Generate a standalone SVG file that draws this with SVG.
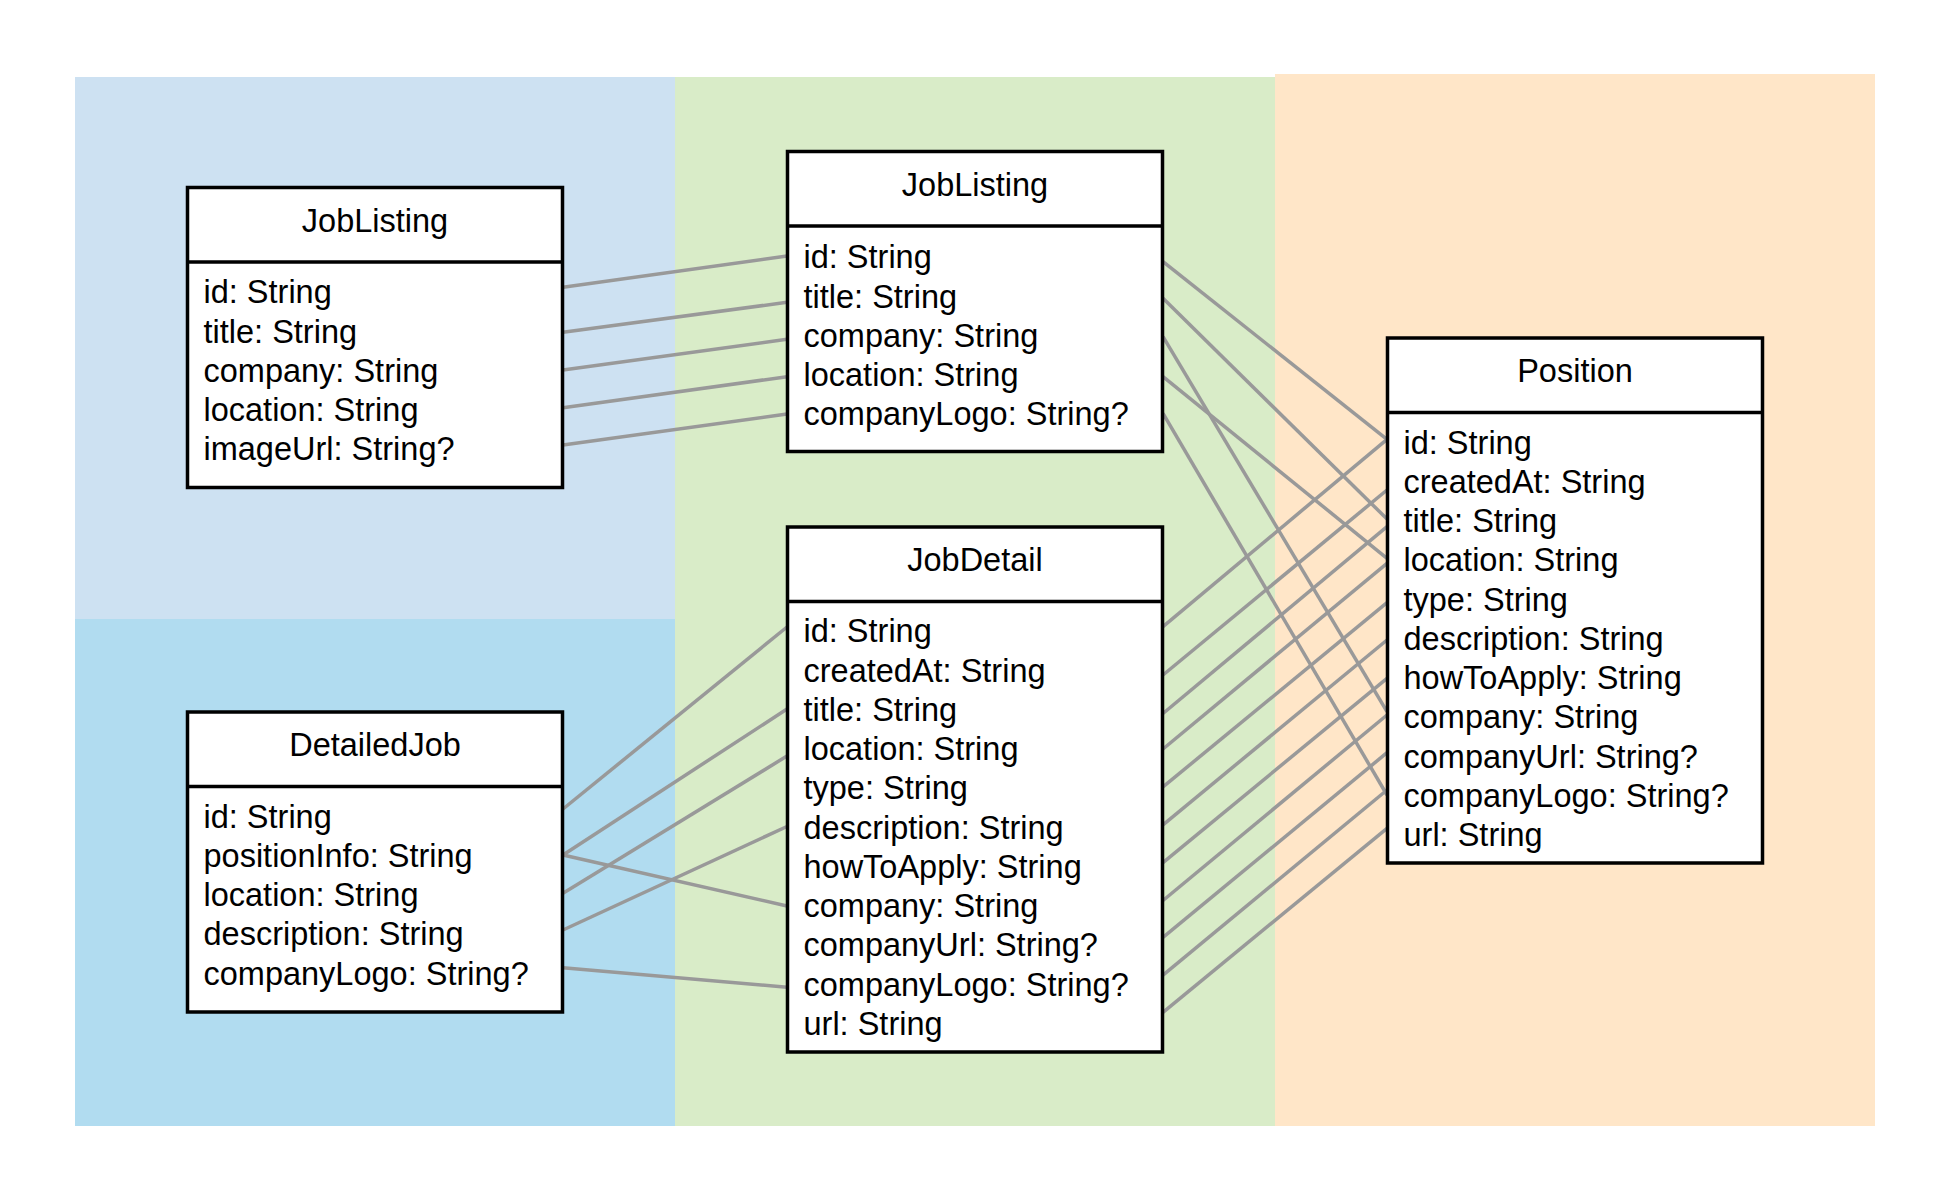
<svg xmlns="http://www.w3.org/2000/svg" width="1950" height="1204" viewBox="0 0 1950 1204">
<style>
.box{fill:#ffffff;stroke:#000000;stroke-width:3.5}
.div{stroke:#000000;stroke-width:3.5}
.t{font-family:"Liberation Sans",Arial,Helvetica,sans-serif;font-size:32.5px;fill:#000000}
.h{text-anchor:middle}
.c line{stroke:#999999;stroke-width:3.5;fill:none}
</style>
<rect width="1950" height="1204" fill="#ffffff"/>
<g id="panels">
<rect x="75" y="77" width="600" height="542" fill="#cde1f2"/>
<rect x="75" y="619" width="600" height="507" fill="#b1dcf0"/>
<rect x="675" y="77" width="600" height="1049" fill="#d9ecc8"/>
<rect x="1275" y="74" width="600" height="1052" fill="#ffe6c8"/>
</g>
<g id="connectors" class="c">
<line x1="563" y1="287.3" x2="787" y2="256"/>
<line x1="563" y1="332.3" x2="787" y2="302.3"/>
<line x1="563" y1="370" x2="787" y2="339.3"/>
<line x1="563" y1="407.7" x2="787" y2="376.7"/>
<line x1="563" y1="445" x2="787" y2="414"/>
<line x1="1163" y1="261.7" x2="1387" y2="439.3"/>
<line x1="1163" y1="298.3" x2="1387" y2="519"/>
<line x1="1163" y1="336.7" x2="1387" y2="711.7"/>
<line x1="1163" y1="376.7" x2="1387" y2="558.3"/>
<line x1="1163" y1="413.3" x2="1387" y2="795"/>
<line x1="1163" y1="626.7" x2="1387" y2="439.3"/>
<line x1="1163" y1="675" x2="1387" y2="490"/>
<line x1="1163" y1="713.5" x2="1387" y2="526.7"/>
<line x1="1163" y1="749" x2="1387" y2="563.3"/>
<line x1="1163" y1="786.9" x2="1387" y2="602.7"/>
<line x1="1163" y1="824.8" x2="1387" y2="640"/>
<line x1="1163" y1="862.6" x2="1387" y2="678.3"/>
<line x1="1163" y1="900.5" x2="1387" y2="715"/>
<line x1="1163" y1="937.4" x2="1387" y2="752.7"/>
<line x1="1163" y1="975.2" x2="1387" y2="790"/>
<line x1="1163" y1="1012.4" x2="1387" y2="828.3"/>
<line x1="563" y1="809" x2="787" y2="627"/>
<line x1="563" y1="855" x2="787" y2="709"/>
<line x1="563" y1="855" x2="787" y2="906"/>
<line x1="563" y1="893.3" x2="787" y2="756"/>
<line x1="563" y1="930" x2="787" y2="826.5"/>
<line x1="563" y1="967.7" x2="787" y2="987.3"/>
</g>
<g id="joblisting-left">
<rect class="box" x="187.5" y="187.5" width="375" height="300"/>
<line class="div" x1="187.5" y1="262" x2="562.5" y2="262"/>
<text class="t h" x="375" y="231.5">JobListing</text>
<text class="t" x="203.5" y="303.3">id: String</text>
<text class="t" x="203.5" y="342.5">title: String</text>
<text class="t" x="203.5" y="381.8">company: String</text>
<text class="t" x="203.5" y="421">location: String</text>
<text class="t" x="203.5" y="460.3">imageUrl: String?</text>
</g>
<g id="detailedjob">
<rect class="box" x="187.5" y="712" width="375" height="300"/>
<line class="div" x1="187.5" y1="786.5" x2="562.5" y2="786.5"/>
<text class="t h" x="375" y="756">DetailedJob</text>
<text class="t" x="203.5" y="827.5">id: String</text>
<text class="t" x="203.5" y="866.8">positionInfo: String</text>
<text class="t" x="203.5" y="906">location: String</text>
<text class="t" x="203.5" y="945.3">description: String</text>
<text class="t" x="203.5" y="984.5">companyLogo: String?</text>
</g>
<g id="joblisting-mid">
<rect class="box" x="787.5" y="151.5" width="375" height="300"/>
<line class="div" x1="787.5" y1="226" x2="1162.5" y2="226"/>
<text class="t h" x="975" y="196">JobListing</text>
<text class="t" x="803.5" y="268.3">id: String</text>
<text class="t" x="803.5" y="307.5">title: String</text>
<text class="t" x="803.5" y="346.8">company: String</text>
<text class="t" x="803.5" y="386">location: String</text>
<text class="t" x="803.5" y="425.3">companyLogo: String?</text>
</g>
<g id="jobdetail">
<rect class="box" x="787.5" y="527" width="375" height="525"/>
<line class="div" x1="787.5" y1="601.5" x2="1162.5" y2="601.5"/>
<text class="t h" x="975" y="571">JobDetail</text>
<text class="t" x="803.5" y="642.2">id: String</text>
<text class="t" x="803.5" y="681.5">createdAt: String</text>
<text class="t" x="803.5" y="720.7">title: String</text>
<text class="t" x="803.5" y="760">location: String</text>
<text class="t" x="803.5" y="799.2">type: String</text>
<text class="t" x="803.5" y="838.5">description: String</text>
<text class="t" x="803.5" y="877.7">howToApply: String</text>
<text class="t" x="803.5" y="917">company: String</text>
<text class="t" x="803.5" y="956.2">companyUrl: String?</text>
<text class="t" x="803.5" y="995.5">companyLogo: String?</text>
<text class="t" x="803.5" y="1034.7">url: String</text>
</g>
<g id="position">
<rect class="box" x="1387.5" y="338" width="375" height="525"/>
<line class="div" x1="1387.5" y1="412.5" x2="1762.5" y2="412.5"/>
<text class="t h" x="1575" y="382">Position</text>
<text class="t" x="1403.5" y="453.5">id: String</text>
<text class="t" x="1403.5" y="492.7">createdAt: String</text>
<text class="t" x="1403.5" y="532">title: String</text>
<text class="t" x="1403.5" y="571.2">location: String</text>
<text class="t" x="1403.5" y="610.5">type: String</text>
<text class="t" x="1403.5" y="649.7">description: String</text>
<text class="t" x="1403.5" y="689">howToApply: String</text>
<text class="t" x="1403.5" y="728.2">company: String</text>
<text class="t" x="1403.5" y="767.5">companyUrl: String?</text>
<text class="t" x="1403.5" y="806.7">companyLogo: String?</text>
<text class="t" x="1403.5" y="846">url: String</text>
</g>
</svg>
